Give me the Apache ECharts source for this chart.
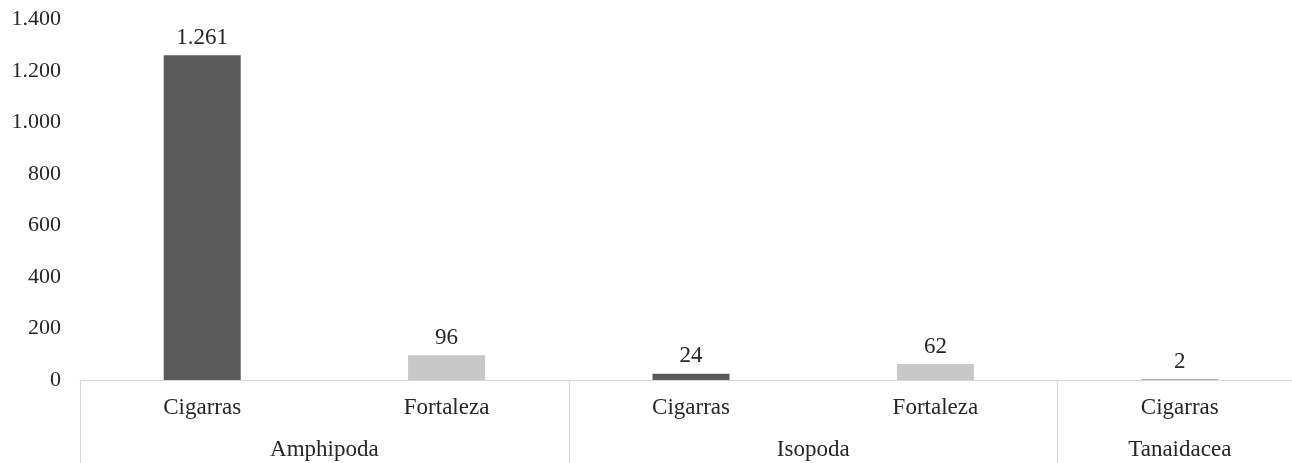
<!DOCTYPE html>
<html>
<head>
<meta charset="utf-8">
<script src="https://cdn.jsdelivr.net/npm/echarts@6/dist/echarts.min.js"></script>
<style>
html,body{margin:0;padding:0;background:#fff;overflow:hidden;width:1292px;height:463px;}
#chart{width:1302px;height:463px;}
</style>
</head>
<body>
<div id="chart"></div>
<script>
const subCategories = ["Cigarras", "Fortaleza", "Cigarras", "Fortaleza", "Cigarras"];
const groups = ["Amphipoda", "Isopoda", "Tanaidacea"];
const groupSizes = [2, 2, 1];
const values = [1261, 96, 24, 62, 2];
const yTicks = [0, 200, 400, 600, 800, 1000, 1200, 1400];

const siteColors = { "Cigarras": "#595959", "Fortaleza": "#c8c8c8" };
const fmt = v => String(v).replace(/\B(?=(\d{3})+(?!\d))/g, ".");

// group boundaries and centres in category units
const bounds = [0];
groupSizes.forEach(s => bounds.push(bounds[bounds.length - 1] + s));
const centres = groupSizes.map((s, i) => bounds[i] + s / 2);

const FONT = "Liberation Serif";
const TXT = "#262626";
const LINE = "#d9d9d9";

const chart = echarts.init(document.getElementById('chart'), null, { renderer: 'canvas' });
chart.setOption({
  animation: false,
  backgroundColor: '#fff',
  grid: { left: 80, top: 19.5, right: 0, bottom: 83, containLabel: false },
  xAxis: [
    {
      type: 'category',
      data: subCategories,
      position: 'bottom',
      axisLine: { show: true, lineStyle: { color: LINE, width: 1 } },
      axisTick: { show: false },
      axisLabel: { interval: 0, margin: 16, fontFamily: FONT, fontSize: 23, color: TXT }
    },
    {
      type: 'value',
      min: 0,
      max: bounds[bounds.length - 1],
      position: 'bottom',
      axisLine: { show: false },
      splitLine: { show: false },
      axisTick: { show: true, customValues: bounds, length: 84, inside: false, lineStyle: { color: LINE, width: 1 } },
      axisLabel: {
        customValues: centres,
        margin: 58,
        fontFamily: FONT, fontSize: 23, color: TXT,
        formatter: v => { const i = centres.findIndex(c => Math.abs(c - v) < 1e-6); return i >= 0 ? groups[i] : ''; }
      }
    }
  ],
  yAxis: {
    type: 'value',
    min: yTicks[0],
    max: yTicks[yTicks.length - 1],
    interval: 200,
    axisLine: { show: false },
    axisTick: { show: false },
    splitLine: { show: false },
    axisLabel: { margin: 19, fontFamily: FONT, fontSize: 22, color: TXT, formatter: v => fmt(v) }
  },
  series: [{
    type: 'bar',
    xAxisIndex: 0,
    barWidth: 77,
    data: values.map((v, i) => ({ value: v, itemStyle: { color: siteColors[subCategories[i]] } })),
    label: {
      show: true, position: 'top', distance: 6,
      fontFamily: FONT, fontSize: 23, color: TXT,
      formatter: p => fmt(p.value)
    }
  }]
});
</script>
</body>
</html>
